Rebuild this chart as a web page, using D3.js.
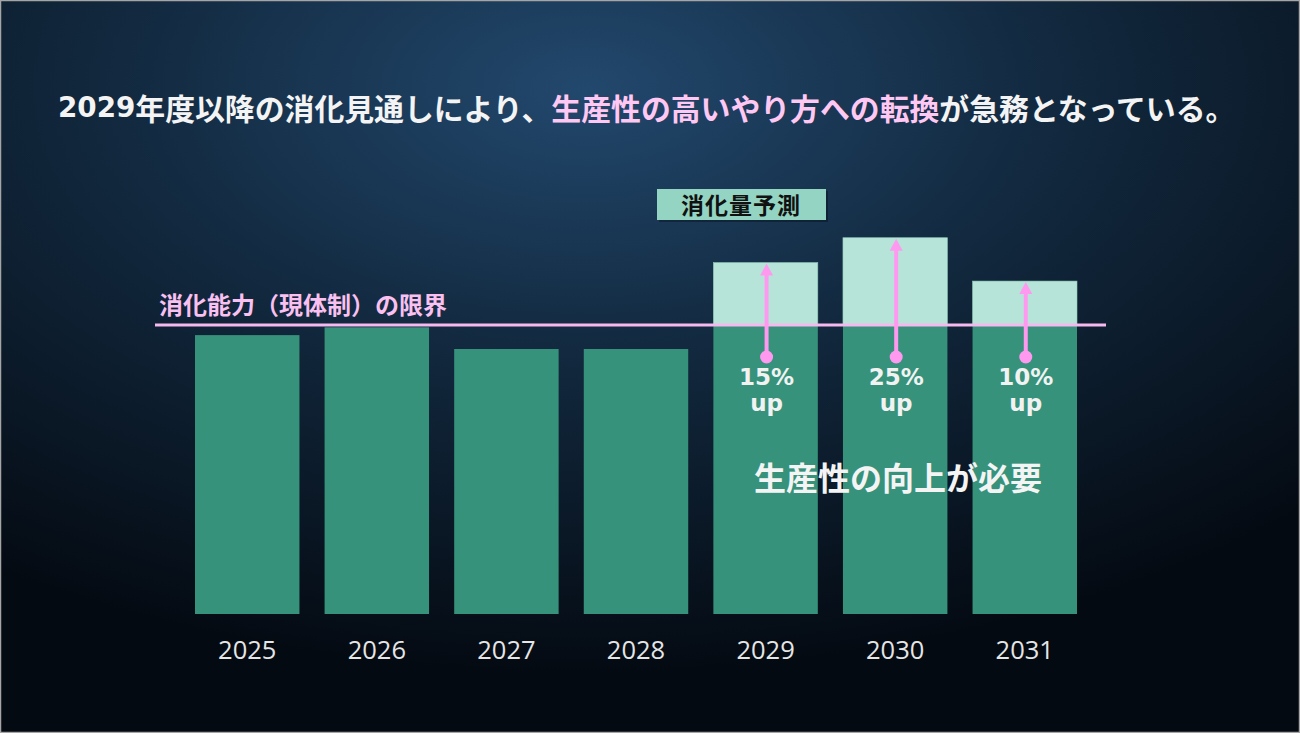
<!DOCTYPE html>
<html><head><meta charset="utf-8">
<script src="https://cdn.jsdelivr.net/npm/d3@7/dist/d3.min.js"></script>
<style>html,body{margin:0;padding:0;background:#000;}svg{display:block;}</style>
</head><body>
<script>
// ---- data ----
const years = ["2025","2026","2027","2028","2029","2030","2031"];
const capacity = 100;                                   // 消化能力（現体制）の限界
const baseValues = [96.5, 99.2, 91.7, 91.7, 100, 100, 100];      // dark bars (up to capacity)
const forecastValues = [null, null, null, null, 121.6, 130.2, 115.2]; // 消化量予測
const upLabels = [null, null, null, null, "15%", "25%", "10%"];
const titleParts = [
  {t:"2029", pink:false, latin:true},
  {t:"年度以降の消化見通しにより、", pink:false},
  {t:"生産性の高いやり方への転換", pink:true},
  {t:"が急務となっている。", pink:false}
];
const legendLabel = "消化量予測";
const capacityLabel = "消化能力（現体制）の限界";
const noteLabel = "生産性の向上が必要";

const W = 1300, H = 733;
const JP = "'Noto Sans CJK JP','Noto Sans',sans-serif";
const svg = d3.select("body").append("svg").attr("width", W).attr("height", H);
const defs = svg.append("defs");
const rg = defs.append("radialGradient").attr("id","bg").attr("cx","0.45").attr("cy","0.12").attr("r","0.8")
  .attr("gradientUnits","objectBoundingBox");
rg.append("stop").attr("offset","0").attr("stop-color","#22486d");
rg.append("stop").attr("offset","0.45").attr("stop-color","#12293f");
rg.append("stop").attr("offset","1").attr("stop-color","#040a12");
svg.append("rect").attr("width",W).attr("height",H).attr("fill","url(#bg)");
svg.append("rect").attr("x",0.5).attr("y",0.5).attr("width",W-1).attr("height",H-1)
  .attr("fill","none").attr("stroke","#a5a5a5").attr("stroke-width",1.5);

// scales
const x = d3.scaleBand().domain(years).range([195, 1077]).paddingInner(0.194).paddingOuter(0);
const y = d3.scaleLinear().domain([0, capacity]).range([614, 325]);

// title
const title = svg.append("text").attr("x",58).attr("y",107).attr("dominant-baseline","central")
  .attr("font-family",JP).attr("font-weight","bold").attr("font-size",29);
title.selectAll("tspan").data(titleParts).join("tspan")
  .text(d=>d.t).attr("fill",d=>d.pink?"#ffc8f2":"#f4f4f4")
  .attr("font-family",d=>d.latin?"'DejaVu Sans',sans-serif":JP)
  .attr("font-size",d=>d.latin?27:29);
const tl = title.node().getComputedTextLength();
const k = 1178/tl;
title.selectAll("tspan").attr("font-size",d=>(d.latin?27:29)*k);

// forecast (light) bars
const fIdx = years.map((d,i)=>i).filter(i=>forecastValues[i]!=null);
svg.append("g").selectAll("rect").data(fIdx).join("rect")
  .attr("x",i=>x(years[i])).attr("width",x.bandwidth())
  .attr("y",i=>y(forecastValues[i])).attr("height",i=>y(capacity)-y(forecastValues[i]))
  .attr("fill","#b7e4d8").attr("stroke","#8fc8b8").attr("stroke-width",0.6);

// base (dark) bars
svg.append("g").selectAll("rect").data(years).join("rect")
  .attr("x",d=>x(d)).attr("width",x.bandwidth())
  .attr("y",(d,i)=>y(baseValues[i])).attr("height",(d,i)=>y(0)-y(baseValues[i]))
  .attr("fill","#36927b");

// capacity line
svg.append("line").attr("x1",155).attr("x2",1106).attr("y1",y(capacity)).attr("y2",y(capacity))
  .attr("stroke","#f6b8ee").attr("stroke-width",3);
svg.append("text").attr("x",159).attr("y",303).attr("dominant-baseline","central")
  .attr("font-family",JP).attr("font-weight","bold").attr("font-size",24)
  .attr("fill","#f9c0f0").text(capacityLabel);

// legend box
const lg = svg.append("g");
lg.append("rect").attr("x",659).attr("y",191).attr("width",169).attr("height",31).attr("fill","#000").attr("opacity",0.3);
lg.append("rect").attr("x",657).attr("y",189).attr("width",169).attr("height",31).attr("fill","#94d4c2");
lg.append("text").attr("x",741).attr("y",204).attr("text-anchor","middle").attr("dominant-baseline","central")
  .attr("font-family",JP).attr("font-weight","bold").attr("font-size",23).attr("letter-spacing",1)
  .attr("fill","#111").text(legendLabel);

// arrows
const arrowColor = "#ff99f0";
const ag = svg.append("g");
fIdx.forEach(i=>{
  const cx = x(years[i]) + x.bandwidth()/2 + 1;
  const top = y(forecastValues[i]) + 1;
  const dotY = y(capacity) + 32;
  ag.append("line").attr("x1",cx).attr("x2",cx).attr("y1",dotY).attr("y2",top+10)
    .attr("stroke",arrowColor).attr("stroke-width",4);
  ag.append("path").attr("d",`M${cx},${top} L${cx-6.5},${top+12} L${cx+6.5},${top+12} Z`).attr("fill",arrowColor);
  ag.append("circle").attr("cx",cx).attr("cy",dotY).attr("r",6.5).attr("fill",arrowColor);
  const fam = "'DejaVu Sans',sans-serif";
  ag.append("text").attr("text-anchor","middle").attr("x",cx).attr("y",385)
    .attr("font-family",fam).attr("font-weight","bold").attr("font-size",23).attr("fill","#f2f2f2")
    .text(upLabels[i]);
  ag.append("text").attr("text-anchor","middle").attr("x",cx).attr("y",411)
    .attr("font-family",fam).attr("font-weight","bold").attr("font-size",23).attr("fill","#f2f2f2")
    .text("up");
});

// note
svg.append("text").attr("x",898).attr("y",476).attr("text-anchor","middle").attr("dominant-baseline","central")
  .attr("font-family",JP).attr("font-weight","bold").attr("font-size",32).attr("fill","#f4f4f4").text(noteLabel);

// x axis
const xAxis = svg.append("g").attr("transform","translate(0,614)")
  .call(d3.axisBottom(x).tickSize(0).tickPadding(0));
xAxis.select(".domain").remove();
xAxis.selectAll("text").attr("y",45).attr("dy",0)
  .attr("font-family","'Open Sans','Noto Sans',sans-serif").attr("font-size",25.5).attr("fill","#e6e6e6");
</script>
</body></html>
